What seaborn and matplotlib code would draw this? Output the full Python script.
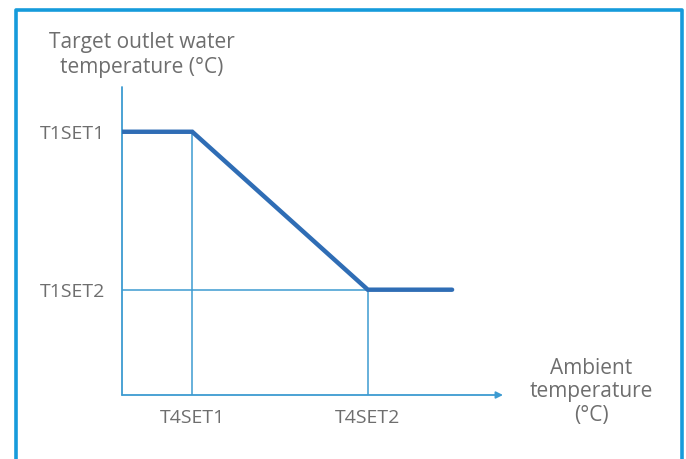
import seaborn as sns
import matplotlib.pyplot as plt
import pandas as pd

# curve: ambient temperature -> target outlet water temperature (schematic units)
ambient = [0, 2, 7, 9.4]
target = [5, 5, 2, 2]
x_ticks = [2, 7]
x_labels = ["T4SET1", "T4SET2"]
y_ticks = [5, 2]
y_labels = ["T1SET1", "T1SET2"]

sns.set_style("white")
plt.rcParams['font.family'] = ['Open Sans', 'DejaVu Sans']

text_color = "#6e6e6e"
guide_color = "#3d9bd1"
curve_color = "#2f6db5"
fs = 15
tick_fs = 14

fig = plt.figure(figsize=(6.86, 4.59), dpi=100)

# blue frame around the figure (open at bottom)
frame = fig.add_axes([0, 0, 1, 1])
frame.set_xlim(0, 686)
frame.set_ylim(459, 0)
frame.axis("off")
frame.plot([16, 16, 682, 682], [470, 10, 10, 470], color="#169bdb", lw=2.6)

ax = fig.add_axes([122 / 686, (459 - 395) / 459, (503 - 122) / 686, (395 - 87) / 459])
df = pd.DataFrame({"ambient": ambient, "target": target})
sns.lineplot(data=df, x="ambient", y="target", ax=ax, color=curve_color,
             lw=3.2, solid_joinstyle="miter", zorder=5)
ax.set_xlim(0, 10.85)
ax.set_ylim(0, 5.85)

# guide lines
ax.plot([x_ticks[0], x_ticks[0]], [0, target[1]], color=guide_color, lw=1.1)
ax.plot([x_ticks[1], x_ticks[1]], [0, target[2]], color=guide_color, lw=1.1)
ax.plot([0, x_ticks[1]], [y_ticks[1], y_ticks[1]], color=guide_color, lw=1.1)

for s in ax.spines.values():
    s.set_visible(False)
ax.plot([0, 0], [0, 5.85], color=guide_color, lw=1.3, clip_on=False)
ax.annotate("", xy=(1.0, 0), xytext=(0, 0), xycoords="axes fraction",
            arrowprops=dict(arrowstyle="-|>", color=guide_color, lw=1.3,
                            mutation_scale=10, shrinkA=0, shrinkB=0))

ax.set_xticks(x_ticks)
ax.set_xticklabels(x_labels)
ax.set_yticks(y_ticks)
ax.set_yticklabels(y_labels)
ax.tick_params(length=0, labelsize=tick_fs, colors=text_color)
ax.tick_params(axis="x", pad=10)
ax.tick_params(axis="y", pad=12)
ax.set_xlabel("")
ax.set_ylabel("")

frame.text(142, 55, "Target outlet water\ntemperature (°C)", ha="center", va="center",
           fontsize=fs, color=text_color, linespacing=1.25)
frame.text(591, 392, "Ambient\ntemperature\n(°C)", ha="center", va="center",
           fontsize=fs, color=text_color, linespacing=1.13)

fig.savefig("out.png", dpi=100)
